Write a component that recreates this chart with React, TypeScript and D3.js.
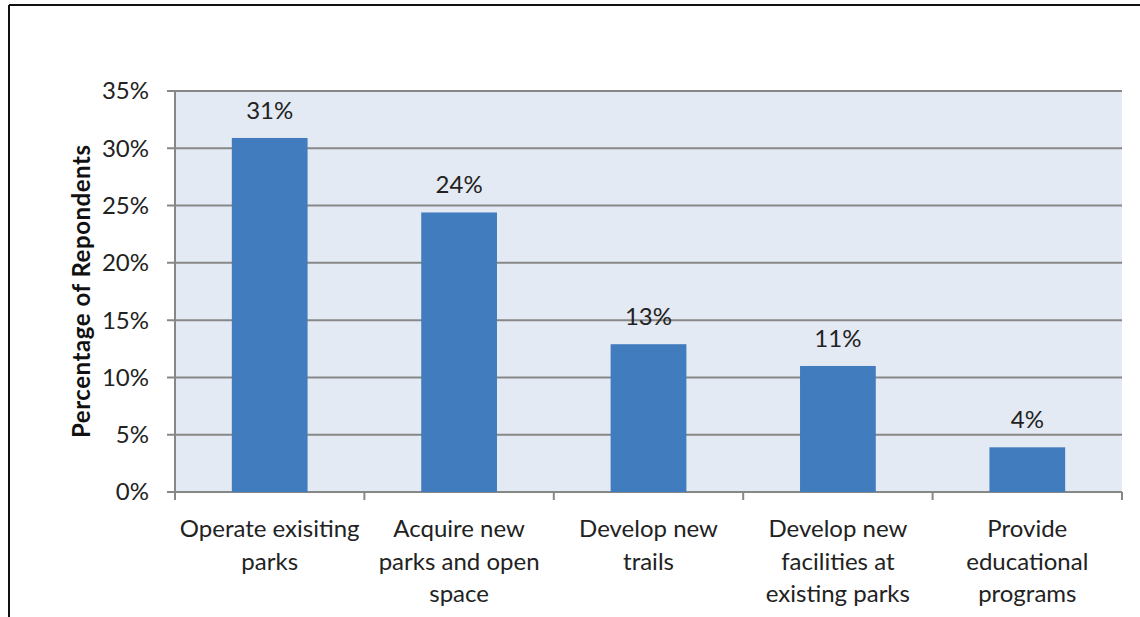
import React from "react";
import * as d3 from "d3";

const categories: string[][] = [
  ["Operate exisiting", "parks"],
  ["Acquire new", "parks and open", "space"],
  ["Develop new", "trails"],
  ["Develop new", "facilities at", "existing parks"],
  ["Provide", "educational", "programs"],
];
const values: number[] = [30.9, 24.4, 12.9, 11.0, 3.9];
const yTicks: number[] = [0, 5, 10, 15, 20, 25, 30, 35];
const yTitle = "Percentage of Repondents";

const W = 1140;
const H = 617;
const FONT = "Lato, 'Noto Sans', sans-serif";

export default function App() {
  const left = 175, right = 1122, top = 91, bottom = 492;
  const x = d3.scaleBand<number>().domain(d3.range(values.length)).range([left, right]).paddingInner(0.6).paddingOuter(0.3);
  const xb = d3.scaleLinear().domain([0, values.length]).range([left, right]);
  const y = d3.scaleLinear().domain([0, 35]).range([bottom, top]);
  const axisColor = "#878787";
  return (
    <svg width={W} height={H} style={{ position: "absolute", left: 0, top: 0 }} fontFamily={FONT}>
      <rect x={0} y={0} width={W} height={H} fill="#fff" />
      <line x1={9} y1={5} x2={W} y2={5} stroke="#111" strokeWidth={2} />
      <line x1={9} y1={5} x2={9} y2={H} stroke="#111" strokeWidth={2} />
      <rect x={left} y={top} width={right - left} height={bottom - top} fill="#E4EAF3" />
      {yTicks.map((t) => (
        <g key={t}>
          <line x1={left - 8} x2={right} y1={y(t)} y2={y(t)} stroke={axisColor} strokeWidth={2} />
          <text x={149} y={y(t)} dy="0.35em" textAnchor="end" fontSize={24} fill="#222">{t}%</text>
        </g>
      ))}
      <line x1={left} x2={left} y1={top} y2={bottom} stroke={axisColor} strokeWidth={2} />
      {d3.range(values.length + 1).map((i) => (
        <line key={i} x1={xb(i)} x2={xb(i)} y1={bottom} y2={bottom + 8} stroke={axisColor} strokeWidth={2} />
      ))}
      {values.map((v, i) => (
        <g key={i}>
          <rect x={x(i)!} y={y(v)} width={x.bandwidth()} height={bottom - y(v)} fill="#417CBE" />
          <text x={x(i)! + x.bandwidth() / 2} y={y(v) - 19} textAnchor="middle" fontSize={24} fill="#222">
            {Math.round(v)}%
          </text>
        </g>
      ))}
      {categories.map((lines, i) => (
        <text key={i} x={x(i)! + x.bandwidth() / 2} y={537} textAnchor="middle" fontSize={24} fill="#222">
          {lines.map((l, j) => (
            <tspan key={j} x={x(i)! + x.bandwidth() / 2} dy={j === 0 ? 0 : 32.5}>{l}</tspan>
          ))}
        </text>
      ))}
      <text transform={`translate(90, ${(top + bottom) / 2}) rotate(-90)`} textAnchor="middle" fontSize={24} fontWeight="bold" fill="#111" textLength={293} lengthAdjust="spacing">
        {yTitle}
      </text>
    </svg>
  );
}
